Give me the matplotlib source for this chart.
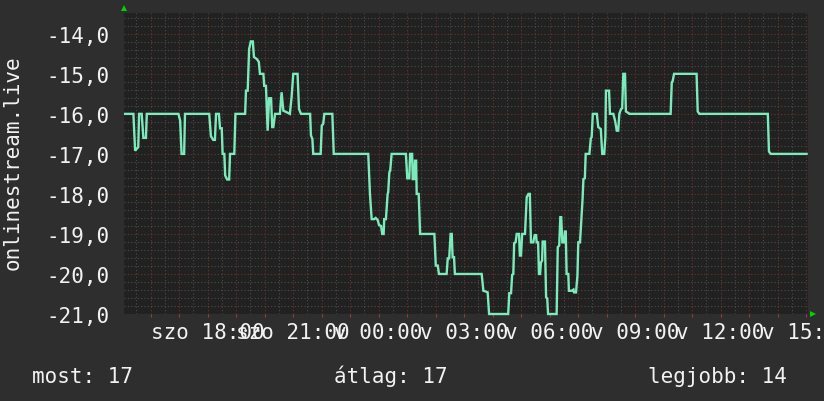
import matplotlib
matplotlib.use("Agg")
import matplotlib.pyplot as plt
from matplotlib.ticker import FixedLocator, MultipleLocator, FuncFormatter

# hours since Sat 15:00, reading in the chart's units
hours = [0.11, 0.40, 0.46, 0.57, 0.60, 0.69, 0.75, 0.84, 0.87, 1.98,
         2.04, 2.09, 2.18, 2.21, 3.06, 3.12, 3.20, 3.26, 3.30, 3.40,
         3.44, 3.50, 3.53, 3.59, 3.62, 3.69, 3.76, 3.79, 3.94, 3.98,
         4.32, 4.35, 4.41, 4.46, 4.52, 4.59, 4.63, 4.73, 4.80, 4.84,
         4.96, 4.99, 5.05, 5.11, 5.16, 5.23, 5.27, 5.31, 5.37, 5.54,
         5.60, 5.66, 5.78, 5.89, 5.95, 6.01, 6.16, 6.21, 6.28, 6.60,
         6.63, 6.68, 6.71, 6.97, 7.01, 7.06, 7.10, 7.38, 7.43, 7.53,
         8.64, 8.70, 8.76, 8.85, 8.90, 8.97, 9.02, 9.09, 9.13, 9.18,
         9.20, 9.26, 9.32, 9.34, 9.38, 9.41, 9.46, 9.96, 10.01, 10.08,
         10.11, 10.18, 10.20, 10.25, 10.28, 10.32, 10.34, 10.41, 10.46, 10.96,
         11.01, 11.08, 11.12, 11.39, 11.43, 11.48, 11.53, 11.57, 11.60, 11.65,
         11.68, 12.62, 12.68, 12.77, 12.83, 12.88, 13.55, 13.59, 13.65, 13.69,
         13.73, 13.76, 13.81, 13.85, 13.93, 13.96, 14.00, 14.04, 14.14, 14.20,
         14.26, 14.31, 14.35, 14.43, 14.48, 14.53, 14.55, 14.60, 14.63, 14.67,
         14.70, 14.74, 14.76, 14.84, 14.88, 14.92, 14.95, 15.25, 15.29, 15.34,
         15.38, 15.41, 15.45, 15.51, 15.54, 15.57, 15.60, 15.66, 15.68, 15.78,
         15.84, 15.86, 15.93, 15.98, 16.01, 16.07, 16.16, 16.19, 16.24, 16.27,
         16.40, 16.45, 16.48, 16.52, 16.66, 16.71, 16.80, 16.85, 16.92, 16.96,
         16.98, 17.09, 17.12, 17.24, 17.30, 17.36, 17.41, 17.45, 17.51, 17.55,
         17.59, 17.65, 17.68, 17.77, 17.80, 19.25, 19.29, 19.32, 19.37, 20.16,
         20.20, 20.26, 22.66, 22.70, 22.76, 24.02]
values = [-16.0, -16.0, -16.92, -16.83, -16.0, -16.0, -16.6, -16.6, -16.0, -16.0,
          -16.17, -17.0, -17.0, -16.0, -16.0, -16.56, -16.65, -16.65, -16.0, -16.0,
          -16.36, -16.36, -17.0, -17.0, -17.54, -17.64, -17.64, -17.0, -17.0, -16.0,
          -16.0, -15.42, -15.42, -14.38, -14.19, -14.19, -14.58, -14.63, -14.7, -15.0,
          -15.0, -15.3, -15.3, -16.42, -15.61, -15.61, -16.33, -16.33, -16.0, -16.0,
          -15.46, -15.92, -15.96, -16.0, -15.58, -15.0, -15.0, -15.88, -16.0, -16.0,
          -16.54, -16.63, -17.0, -17.0, -16.29, -16.25, -16.0, -16.0, -17.0, -17.0,
          -17.0, -18.0, -18.63, -18.63, -18.6, -18.65, -18.78, -18.8, -19.0, -19.0,
          -18.63, -18.63, -18.0, -17.96, -17.46, -17.42, -17.0, -17.0, -17.61, -17.61,
          -17.0, -17.0, -17.63, -17.63, -17.17, -17.17, -18.0, -18.0, -19.0, -19.0,
          -19.79, -19.79, -20.0, -20.0, -19.61, -19.61, -19.0, -19.0, -19.58, -19.58,
          -20.0, -20.0, -20.42, -20.44, -20.46, -21.0, -21.0, -20.48, -20.48, -20.02,
          -20.0, -19.23, -19.21, -19.0, -19.0, -19.54, -19.54, -19.0, -19.0, -18.08,
          -18.0, -18.0, -19.21, -19.21, -19.03, -19.03, -19.21, -19.21, -20.0, -20.0,
          -19.71, -19.67, -19.19, -19.19, -20.58, -20.61, -21.0, -21.0, -19.33, -19.29,
          -18.58, -18.58, -19.21, -19.21, -18.94, -18.94, -20.0, -20.0, -20.42, -20.42,
          -20.39, -20.46, -20.46, -20.04, -19.21, -19.21, -18.13, -17.63, -17.61, -17.0,
          -17.0, -16.61, -16.58, -16.0, -16.0, -16.33, -16.38, -17.0, -17.0, -16.58,
          -15.42, -15.42, -16.0, -16.0, -16.17, -16.42, -16.42, -16.0, -15.88, -15.86,
          -15.0, -15.0, -15.94, -15.98, -16.0, -16.0, -15.21, -15.19, -15.0, -15.0,
          -15.94, -16.0, -16.0, -16.94, -17.0, -17.0]
assert len(hours) == len(values)

label_hours = [3, 6, 9, 12, 15, 18, 21, 24]
label_texts = ["szo 18:00", "szo 21:00", "v 00:00", "v 03:00",
               "v 06:00", "v 09:00", "v 12:00", "v 15:00"]
y_ticks = [-21, -20, -19, -18, -17, -16, -15, -14]
title_text = "onlinestream.live"
stats = [("most", 17), ("átlag", 17), ("legjobb", 14)]

BG = "#2e2e2e"
PLOT_BG = "#212121"
FG = "#f2f2f2"
LINE = "#7ceabb"
MAJOR = "#6e3333"
MINOR = "#4c4c4c"

plt.rcParams["font.family"] = ["DejaVu Sans Mono", "DejaVu Sans"]
plt.rcParams["font.size"] = 15

fig = plt.figure(figsize=(8.24, 4.02), dpi=100, facecolor=BG)
ax = fig.add_axes([124 / 824, 87 / 402, 684 / 824, 301 / 402], facecolor=PLOT_BG)

ax.plot(hours, values, color=LINE, lw=1.7, clip_on=False, zorder=3,
        solid_joinstyle="miter")

ax.set_xlim(0.07, 24.07)
ax.set_ylim(-21, -13.48)

# grids: 30 min / 1 h on x, 0.2 / 1.0 on y
ax.xaxis.set_major_locator(MultipleLocator(1))
ax.xaxis.set_minor_locator(MultipleLocator(0.5))
ax.yaxis.set_major_locator(FixedLocator(y_ticks))
ax.yaxis.set_minor_locator(MultipleLocator(0.2))
ax.grid(which="minor", color=MINOR, lw=0.8, ls=(0, (1, 2)))
ax.grid(which="major", color=MAJOR, lw=0.8, ls=(0, (1, 2)))
ax.set_axisbelow(True)

lab = dict(zip(label_hours, label_texts))
ax.xaxis.set_major_formatter(FuncFormatter(lambda v, p: lab.get(int(round(v)), "")))
ax.yaxis.set_major_formatter(FuncFormatter(lambda v, p: f"{v:.1f}".replace(".", ",")))

ax.tick_params(axis="x", which="major", length=2.5, color="#a03a3a", pad=3.2,
               labelcolor=FG, labelsize=15)
ax.tick_params(axis="x", which="minor", length=0)
ax.tick_params(axis="y", which="both", length=0, pad=10.5, labelcolor=FG, labelsize=15)
for s in ax.spines.values():
    s.set_visible(False)

# axis arrows
ax.plot([0], [1.016], marker="^", color="#00d000", ms=5, mew=0,
        transform=ax.transAxes, clip_on=False)
ax.plot([1.0066], [0], marker=">", color="#00d000", ms=5, mew=0,
        transform=ax.transAxes, clip_on=False)

fig.text(13 / 824, 1 - 163 / 402, title_text, rotation=90, ha="center", va="center",
         color=FG, fontsize=15)

stat_x = [32, 334, 648]
for (name, val), x in zip(stats, stat_x):
    fig.text(x / 824, 1 - 383 / 402, f"{name}: {val}", ha="left", va="baseline",
             color=FG, fontsize=15)

fig.savefig("out.png", dpi=100, facecolor=BG)
